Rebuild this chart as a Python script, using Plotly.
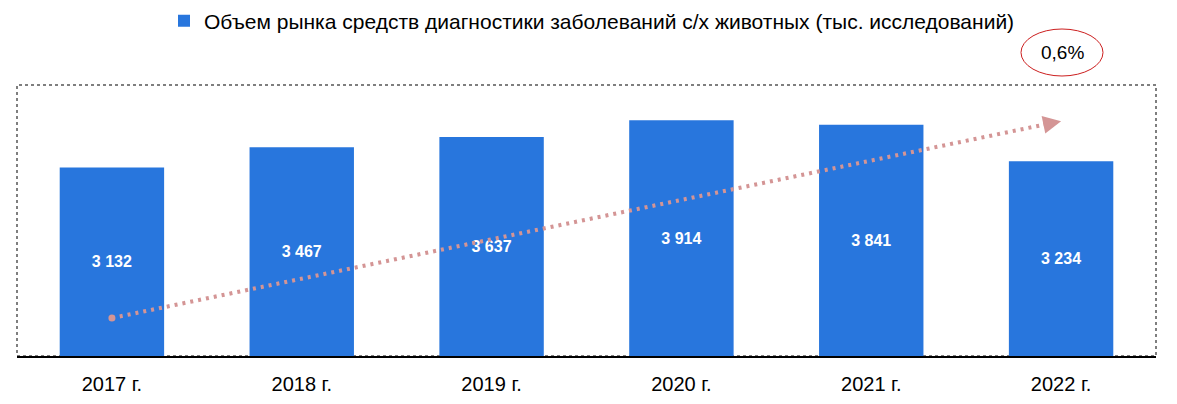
import plotly.graph_objects as go

years = ["2017 г.", "2018 г.", "2019 г.", "2020 г.", "2021 г.", "2022 г."]
volume = [3132, 3467, 3637, 3914, 3841, 3234]
series_name = "Объем рынка средств диагностики заболеваний с/х животных (тыс. исследований)"
growth_label = "0,6%"
# decorative trend arrow (start/end in axis units)
trend_start = 630
trend_end = 3900

labels = [f"{v:,}".replace(",", " ") for v in volume]

FONT = "Liberation Sans Narrow, Arial Narrow, Liberation Sans, Arial, sans-serif"
BLUE = "#2876DD"
TREND = "#D49595"

# page is rendered with an 8px body margin; compensate
OFF = 8
W, H = 1177 - OFF, 404 - OFF
ml, mr, mt, mb = 17 - OFF, 1177 - 1156, 85 - OFF, 404 - 356


def px_x(p):
    return (p - OFF - ml) / (W - ml - mr)


def px_y(p):
    return (H - mb - (p - OFF)) / (H - mt - mb)


fig = go.Figure()
fig.add_trace(go.Bar(
    x=years, y=volume, name=series_name,
    marker=dict(color=BLUE, line=dict(width=0)),
    width=0.55,
    text=labels, textposition="inside", insidetextanchor="middle",
    textfont=dict(color="white", size=16, family=FONT, weight="bold"),
    textangle=0,
    showlegend=True,
))

fig.update_layout(
    width=W, height=H,
    margin=dict(l=ml, r=mr, t=mt, b=mb),
    paper_bgcolor="white", plot_bgcolor="white",
    font=dict(family=FONT, color="black", size=19),
    showlegend=True,
    legend=dict(orientation="h", x=px_x(592), xanchor="center",
                y=1 - (21 - OFF) / H, yref="container",
                yanchor="middle", font=dict(size=21, family=FONT), itemwidth=30,
                bgcolor="rgba(0,0,0,0)"),
    xaxis=dict(showline=True, linecolor="black", linewidth=2, ticks="",
               showgrid=False, tickfont=dict(size=20, family=FONT),
               ticklabelstandoff=9, fixedrange=True),
    yaxis=dict(range=[0, 4500], visible=False, showgrid=False, fixedrange=True),
)

# dotted frame
fig.add_shape(type="rect", xref="paper", yref="paper", x0=0, x1=1, y0=0, y1=1,
              line=dict(color="#555555", width=1.5, dash="dot"), layer="below")

# trend dotted line
fig.add_shape(type="line", xref="x", yref="y", x0=0, x1=4.93,
              y0=trend_start, y1=trend_start + (trend_end - trend_start) * 4.93 / 5,
              line=dict(color=TREND, width=4, dash="3px,5px"), layer="above")
fig.add_annotation(x=5, y=trend_end, xref="x", yref="y",
                   ax=4.9, ay=trend_start + (trend_end - trend_start) * 4.9 / 5,
                   axref="x", ayref="y", text="", showarrow=True,
                   arrowhead=2, arrowsize=0.9, arrowwidth=4, arrowcolor=TREND)
# start dot
fig.add_trace(go.Scatter(x=[years[0]], y=[trend_start], mode="markers",
                         marker=dict(color=TREND, size=7), showlegend=False,
                         hoverinfo="skip"))

# growth ellipse
fig.add_shape(type="circle", xref="paper", yref="paper",
              x0=px_x(1021), x1=px_x(1103), y0=px_y(76), y1=px_y(29),
              line=dict(color="#CC1F1F", width=1))
fig.add_annotation(x=px_x(1062), y=px_y(52), xref="paper", yref="paper",
                   xanchor="center", yanchor="middle",
                   text=growth_label, showarrow=False,
                   font=dict(size=19, family=FONT, color="black"))

fig.write_html("out.html")
